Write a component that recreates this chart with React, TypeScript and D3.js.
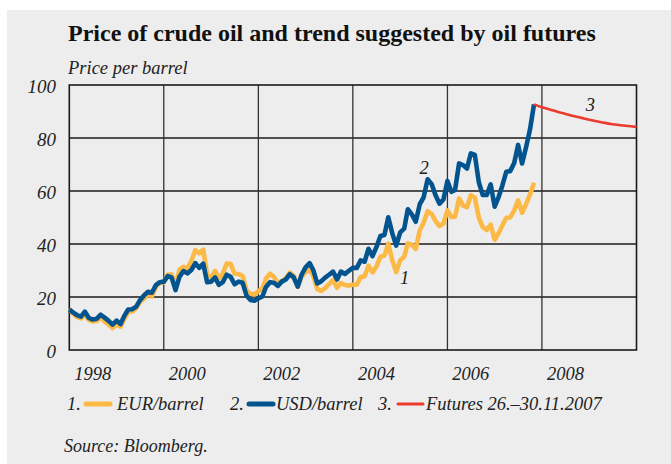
import React, { useRef, useEffect } from 'react';
import * as d3 from 'd3';

// monthly averages, Jan 1998 .. Nov 2007
const usdPerBarrel = [
  15.3, 14.1, 13.2, 12.6, 14.5, 12.1, 11.5, 11.8, 13.3, 12.2, 11.0, 9.6,
  11.1, 9.8, 12.8, 15.3, 15.4, 16.3, 18.8, 20.6, 22.0, 21.6, 24.5, 25.6,
  25.8, 27.9, 27.4, 22.6, 27.6, 29.8, 28.9, 30.2, 32.8, 31.0, 32.6, 25.6,
  25.8, 27.4, 24.6, 25.6, 28.4, 27.6, 24.8, 25.8, 25.4, 20.6, 18.9, 18.6,
  19.5, 20.2, 23.8, 25.6, 25.4, 24.2, 25.8, 26.6, 28.6, 27.4, 23.9, 28.4,
  31.2, 32.8, 30.2, 25.1, 25.9, 27.3, 28.4, 29.6, 26.6, 29.6, 28.7, 29.9,
  31.0, 31.0, 33.8, 33.3, 38.2, 35.4, 38.8, 43.0, 43.4, 50.1, 44.0, 39.4,
  44.4, 45.8, 53.1, 51.2, 48.4, 55.0, 57.6, 64.4, 62.6, 58.4, 55.2, 56.8,
  63.8, 59.7, 60.4, 70.4, 69.8, 68.5, 74.2, 73.6, 63.2, 58.5, 58.5, 62.5,
  54.1, 57.8, 62.0, 67.3, 67.5, 70.6, 77.4, 70.4, 76.6, 83.2, 92.7,
];

const eurPerBarrel = [
  15.5, 13.6, 12.5, 11.9, 13.6, 11.3, 10.8, 11.0, 12.2, 10.8, 9.6, 8.3,
  9.6, 8.8, 11.7, 14.3, 14.5, 15.7, 18.1, 19.4, 21.0, 20.2, 23.8, 25.3,
  25.5, 28.5, 28.5, 24.0, 30.3, 31.4, 30.7, 33.6, 37.7, 36.5, 37.9, 28.4,
  27.4, 29.8, 27.0, 28.8, 32.6, 32.5, 28.8, 28.7, 27.9, 22.6, 21.2, 20.9,
  22.2, 23.2, 27.0, 28.8, 27.6, 25.2, 26.1, 27.1, 29.2, 28.0, 23.9, 27.8,
  29.4, 30.4, 28.0, 23.0, 22.3, 23.3, 24.9, 26.4, 23.5, 25.3, 24.5, 24.3,
  24.6, 24.6, 27.5, 27.8, 31.8, 29.3, 31.5, 35.2, 35.6, 40.1, 33.8, 29.4,
  33.9, 35.2, 40.2, 39.7, 38.1, 45.1, 48.0, 52.4, 51.3, 48.7, 46.8, 47.7,
  52.7, 50.2, 50.3, 57.2, 54.5, 53.9, 58.4, 57.5, 49.8, 46.4, 45.3, 47.3,
  41.6, 44.1, 47.0, 49.9, 50.0, 52.7, 56.5, 51.8, 55.1, 58.6, 63.1,
];

// futures curve 26.-30.11.2007, months counted from Jan 1998
const futuresMonth = [118, 120, 122, 124, 126, 128, 130, 132, 134, 136, 138, 140, 142, 144];
const futuresPrice = [92.7, 91.6, 90.8, 89.9, 89.1, 88.3, 87.6, 86.9, 86.3, 85.7, 85.2, 84.8, 84.5, 84.2];

const yTicks = [0, 20, 40, 60, 80, 100];
const gridYears = [2000, 2002, 2004, 2006, 2008];
const yearLabels = ['1998', '2000', '2002', '2004', '2006', '2008'];

const START_YEAR = 1998;
const serif = '"Liberation Serif", "DejaVu Serif", serif';

export default function App() {
  const svgRef = useRef(null);
  const width = 671;
  const height = 464;
  const margin = { top: 85, right: 34.5, bottom: 114, left: 69.3 };

  useEffect(() => {
    const svg = d3.select(svgRef.current);
    svg.selectAll('*').remove();

    const monthDate = (m: number) => new Date(START_YEAR, m, 1);
    const usd = usdPerBarrel.map((v, i) => ({ date: monthDate(i), value: v }));
    const eur = eurPerBarrel.map((v, i) => ({ date: monthDate(i), value: v }));
    const fut = futuresMonth.map((m, i) => ({ date: monthDate(m), value: futuresPrice[i] }));

    const x = d3.scaleTime()
      .domain([new Date(1998, 0, 1), new Date(2010, 0, 1)])
      .range([margin.left, width - margin.right]);
    const y = d3.scaleLinear()
      .domain([0, 100])
      .range([height - margin.bottom, margin.top]);

    // panel background
    svg.append('rect')
      .attr('x', 7).attr('y', 10)
      .attr('width', width - 7).attr('height', height - 10)
      .attr('fill', '#ededed');

    // title
    svg.append('text')
      .attr('x', 68).attr('y', 41)
      .attr('font-family', serif)
      .attr('font-weight', 'bold')
      .attr('font-size', 24)
      .attr('fill', '#111')
      .text('Price of crude oil and trend suggested by oil futures');

    svg.append('text')
      .attr('x', 68).attr('y', 74)
      .attr('font-family', serif)
      .attr('font-style', 'italic')
      .attr('font-size', 18.5)
      .attr('fill', '#222')
      .text('Price per barrel');

    // horizontal grid
    svg.append('g')
      .selectAll('line')
      .data(yTicks.slice(1, -1))
      .join('line')
      .attr('x1', margin.left).attr('x2', width - margin.right)
      .attr('y1', d => y(d)).attr('y2', d => y(d))
      .attr('stroke', '#1a1a1a')
      .attr('stroke-width', 1.3);

    // vertical grid
    svg.append('g')
      .selectAll('line')
      .data(gridYears)
      .join('line')
      .attr('x1', d => x(new Date(d, 0, 1))).attr('x2', d => x(new Date(d, 0, 1)))
      .attr('y1', margin.top).attr('y2', height - margin.bottom)
      .attr('stroke', '#333')
      .attr('stroke-width', 1.3);

    svg.append('rect')
      .attr('x', margin.left).attr('y', margin.top)
      .attr('width', width - margin.right - margin.left)
      .attr('height', height - margin.bottom - margin.top)
      .attr('fill', 'none')
      .attr('stroke', '#1a1a1a')
      .attr('stroke-width', 1.6);

    // y labels
    svg.append('g')
      .selectAll('text')
      .data(yTicks)
      .join('text')
      .attr('x', 56)
      .attr('y', d => y(d) + 1.5)
      .attr('dy', '0.35em')
      .attr('text-anchor', 'end')
      .attr('font-family', serif)
      .attr('font-style', 'italic')
      .attr('font-size', 19)
      .attr('fill', '#222')
      .text(d => d);

    // year labels centred in the year
    svg.append('g')
      .selectAll('text')
      .data(yearLabels)
      .join('text')
      .attr('x', d => x(new Date(+d, 6, 1)))
      .attr('y', 380)
      .attr('text-anchor', 'middle')
      .attr('font-family', serif)
      .attr('font-style', 'italic')
      .attr('font-size', 18.5)
      .attr('fill', '#222')
      .text(d => d);

    const line = d3.line<{ date: Date; value: number }>()
      .x(d => x(d.date))
      .y(d => y(d.value));

    svg.append('path')
      .datum(eur)
      .attr('fill', 'none')
      .attr('stroke', '#fdb946')
      .attr('stroke-width', 4.6)
      .attr('stroke-linejoin', 'round')
      .attr('d', line);

    svg.append('path')
      .datum(usd)
      .attr('fill', 'none')
      .attr('stroke', '#03548e')
      .attr('stroke-width', 4.6)
      .attr('stroke-linejoin', 'round')
      .attr('d', line);

    svg.append('path')
      .datum(fut)
      .attr('fill', 'none')
      .attr('stroke', '#ec3a2e')
      .attr('stroke-width', 2.6)
      .attr('d', line.curve(d3.curveMonotoneX));

    // series numbers
    const notes = [
      { label: '1', date: new Date(2005, 1, 5), value: 27.5 },
      { label: '2', date: new Date(2005, 6, 5), value: 69 },
      { label: '3', date: new Date(2009, 0, 10), value: 92.5 },
    ];
    svg.append('g')
      .selectAll('text')
      .data(notes)
      .join('text')
      .attr('x', d => x(d.date))
      .attr('y', d => y(d.value))
      .attr('dy', '0.35em')
      .attr('text-anchor', 'middle')
      .attr('font-family', serif)
      .attr('font-style', 'italic')
      .attr('font-size', 18.5)
      .attr('fill', '#222')
      .text(d => d.label);

    // legend
    const legend = [
      { num: '1.', numX: 67, x1: 86, x2: 110, color: '#fdb946', sw: 5, textX: 117, text: 'EUR/barrel' },
      { num: '2.', numX: 230, x1: 249, x2: 273, color: '#03548e', sw: 5, textX: 276, text: 'USD/barrel' },
      { num: '3.', numX: 378, x1: 398, x2: 423, color: '#ec3a2e', sw: 3, textX: 426, text: 'Futures 26.\u201330.11.2007' },
    ];
    const lg = svg.append('g');
    legend.forEach(l => {
      lg.append('text')
        .attr('x', l.numX).attr('y', 410)
        .attr('font-family', serif).attr('font-style', 'italic')
        .attr('font-size', 18.5).attr('fill', '#222')
        .text(l.num);
      lg.append('line')
        .attr('x1', l.x1).attr('x2', l.x2)
        .attr('y1', 404).attr('y2', 404)
        .attr('stroke', l.color)
        .attr('stroke-width', l.sw)
        .attr('stroke-linecap', 'round');
      lg.append('text')
        .attr('x', l.textX).attr('y', 410)
        .attr('font-family', serif).attr('font-style', 'italic')
        .attr('font-size', 18.5).attr('fill', '#222')
        .text(l.text);
    });

    svg.append('text')
      .attr('x', 64).attr('y', 452)
      .attr('font-family', serif)
      .attr('font-style', 'italic')
      .attr('font-size', 18)
      .attr('fill', '#222')
      .text('Source: Bloomberg.');
  }, []);

  return (
    <svg
      ref={svgRef}
      width={width}
      height={height}
      style={{ position: 'absolute', left: 0, top: 0, background: '#fff', display: 'block' }}
    />
  );
}
